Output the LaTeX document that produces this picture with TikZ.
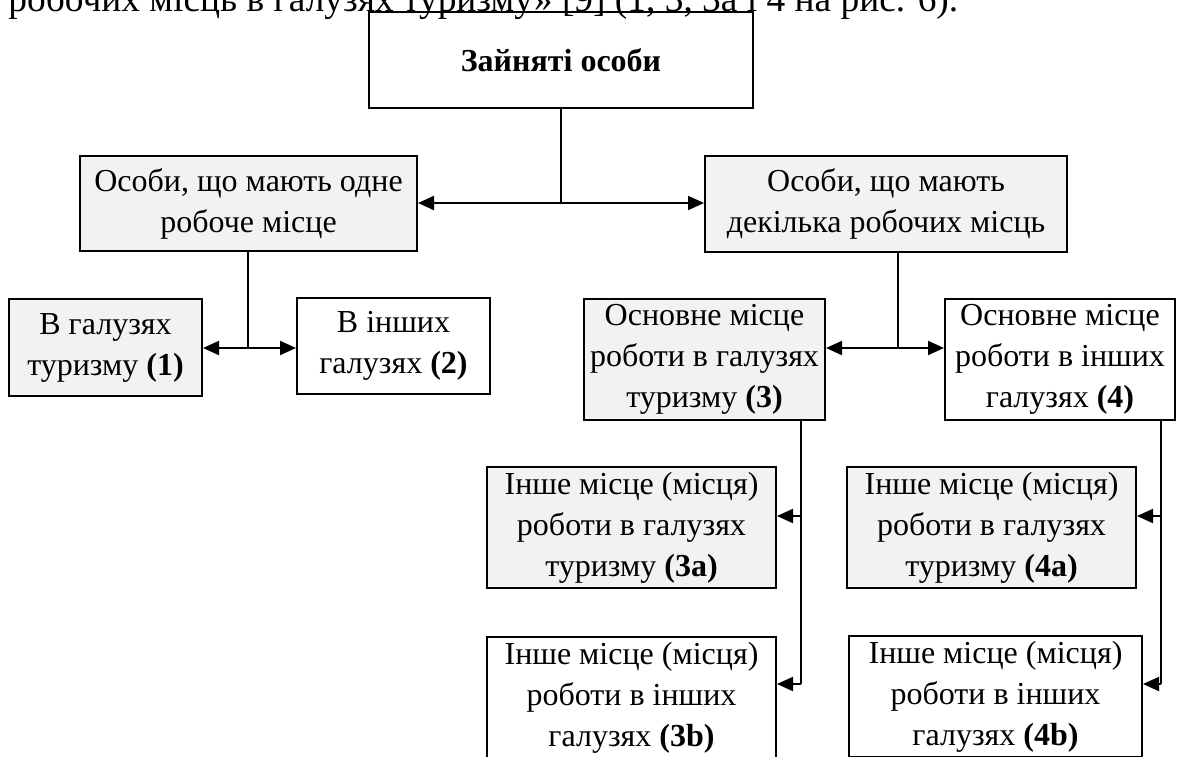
\documentclass[tikz,border=0pt]{standalone}
\usepackage{fontspec}
\setmainfont{Liberation Serif}
\usepackage{tikz}
\usetikzlibrary{arrows.meta}

\definecolor{boxgrey}{HTML}{F2F2F2}
\tikzset{
  box/.style={draw, line width=1pt, rectangle, align=center, inner sep=0pt,
    font=\fontsize{16}{20.5}\selectfont},
  shaded/.style={box, fill=boxgrey},
  link/.style={line width=0.6pt},
  arr/.style={line width=1pt, -{Triangle[length=8pt,width=7pt]}},
}

\begin{document}
\begin{tikzpicture}[x=0.5pt, y=-0.5pt]
\useasboundingbox (0,0) rectangle (1177,756);
\clip (0,0) rectangle (1177,756);
\node[anchor=base west, inner sep=0pt, font=\fontsize{18.7}{22}\selectfont] (prev) at (8,11) {робочих місць в галузях туризму» [9] (1, 3, 3a і 4 на рис. 6).}; % text line above
\node[box, minimum width=192pt, minimum height=48pt] (top) at (561,60) {\textbf{Зайняті особи}}; % top
\node[shaded, minimum width=168.5pt, minimum height=47.5pt] (one) at (248.5,203.5) {Особи, що мають одне\\робоче місце}; % one place
\node[shaded, minimum width=181pt, minimum height=48pt] (many) at (886,204) {Особи, що мають\\декілька робочих місць}; % several places
\node[shaded, minimum width=96.5pt, minimum height=48.5pt] (b1) at (105.5,347.5) {В галузях\\туризму \textbf{(1)}}; % 1
\node[box, minimum width=96.5pt, minimum height=48pt] (b2) at (393.5,346) {В інших\\галузях \textbf{(2)}}; % 2
\node[shaded, minimum width=120.5pt, minimum height=60.5pt] (b3) at (704.5,359.5) {Основне місце\\роботи в галузях\\туризму \textbf{(3)}}; % 3
\node[box, minimum width=115pt, minimum height=60.5pt] (b4) at (1060,359.5) {Основне місце\\роботи в інших\\галузях \textbf{(4)}}; % 4
\node[shaded, minimum width=144.5pt, minimum height=60.5pt] (b3a) at (631.5,527.5) {Інше місце (місця)\\роботи в галузях\\туризму \textbf{(3a)}}; % 3a
\node[box, minimum width=144.5pt, minimum height=60.5pt] (b3b) at (631.5,697.5) {Інше місце (місця)\\роботи в інших\\галузях \textbf{(3b)}}; % 3b
\node[shaded, minimum width=144.5pt, minimum height=60.5pt] (b4a) at (991.5,527.5) {Інше місце (місця)\\роботи в галузях\\туризму \textbf{(4a)}}; % 4a
\node[box, minimum width=146.5pt, minimum height=60.5pt] (b4b) at (995.5,696.5) {Інше місце (місця)\\роботи в інших\\галузях \textbf{(4b)}}; % 4b

\coordinate (j1) at (561,203);
\coordinate (j2) at (248,348);
\coordinate (j3) at (898,348);
\coordinate (t3a) at (801,516);
\coordinate (t3b) at (801,684);
\coordinate (t4a) at (1161,516);
\coordinate (t4b) at (1161,684);

\draw[link] (j1 |- top.south) -- (j1); % top split
\draw[arr] (j1) -- (j1 -| one.east);
\draw[arr] (j1) -- (j1 -| many.west);
\draw[link] (j2 |- one.south) -- (j2); % one split
\draw[arr] (j2) -- (j2 -| b1.east);
\draw[arr] (j2) -- (j2 -| b2.west);
\draw[link] (j3 |- many.south) -- (j3); % many split
\draw[arr] (j3) -- (j3 -| b3.east);
\draw[arr] (j3) -- (j3 -| b4.west);
\draw[link] (t3a |- b3.south) -- (t3b); % 3 branch
\draw[arr] (t3a) -- (t3a -| b3a.east);
\draw[arr] (t3b) -- (t3b -| b3b.east);
\draw[link] (t4a |- b4.south) -- (t4b); % 4 branch
\draw[arr] (t4a) -- (t4a -| b4a.east);
\draw[arr] (t4b) -- (t4b -| b4b.east);
\end{tikzpicture}
\end{document}
